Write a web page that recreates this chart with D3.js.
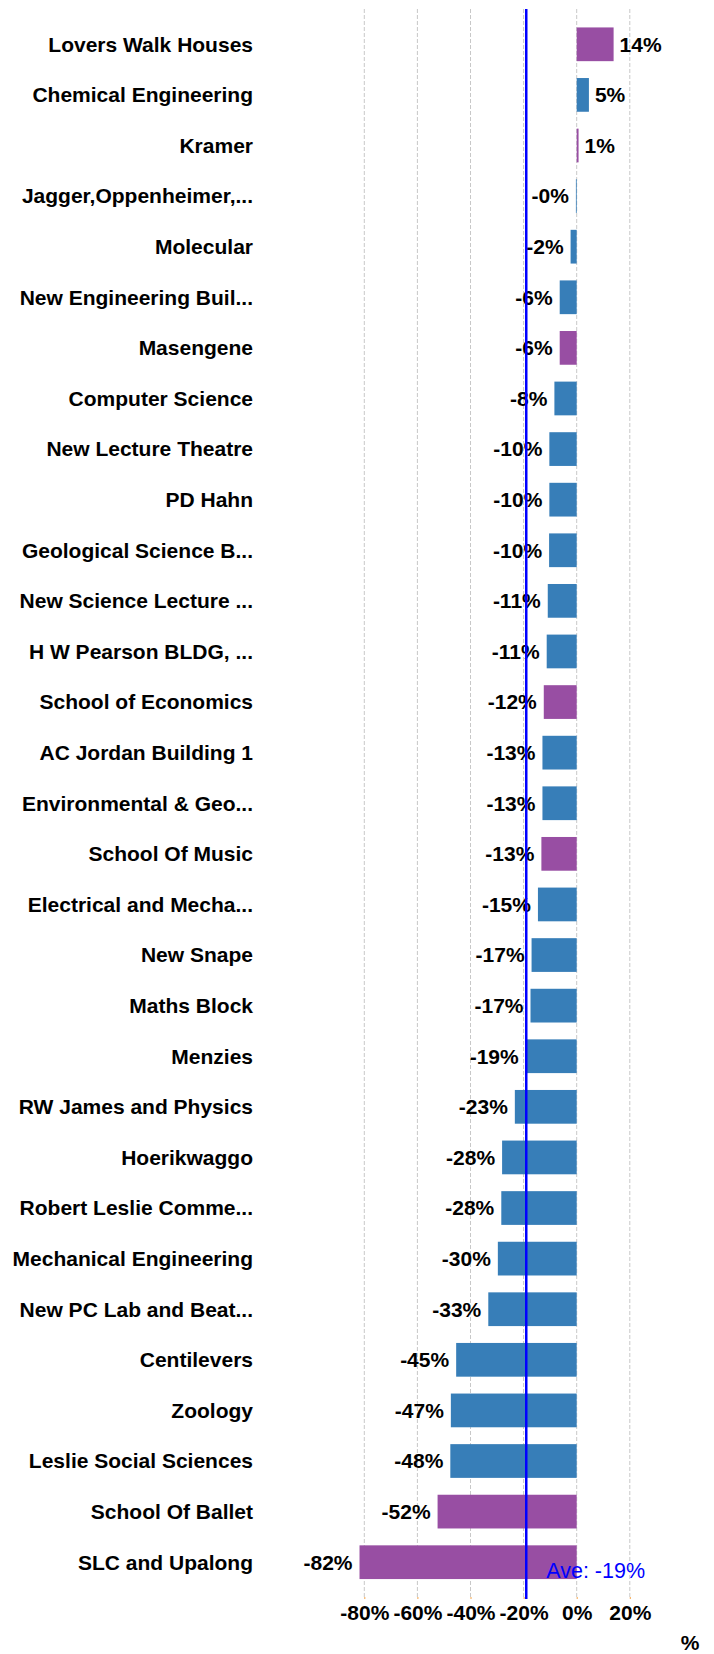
<!DOCTYPE html>
<html>
<head>
<meta charset="utf-8">
<script src="https://cdn.jsdelivr.net/npm/d3@7"></script>
<style>
  body { margin: 0; background: #fff; }
  text { font-family: "Liberation Sans", Arial, sans-serif; }
</style>
</head>
<body>
<div id="container"></div>
<script>
/* CONSTANTS AND GLOBALS */
const width = 714;
const height = 1654;
const fontSize = "21px";

/* DATA */
const buildings = [
  "Lovers Walk Houses", "Chemical Engineering", "Kramer", "Jagger,Oppenheimer,...",
  "Molecular", "New Engineering Buil...", "Masengene", "Computer Science",
  "New Lecture Theatre", "PD Hahn", "Geological Science B...", "New Science Lecture ...",
  "H W Pearson BLDG, ...", "School of Economics", "AC Jordan Building 1",
  "Environmental & Geo...", "School Of Music", "Electrical and Mecha...", "New Snape",
  "Maths Block", "Menzies", "RW James and Physics", "Hoerikwaggo",
  "Robert Leslie Comme...", "Mechanical Engineering", "New PC Lab and Beat...",
  "Centilevers", "Zoology", "Leslie Social Sciences", "School Of Ballet", "SLC and Upalong"
];
const changes = [
  13.9, 4.6, 0.7, -0.3, -2.3, -6.4, -6.4, -8.4, -10.3, -10.3, -10.4, -10.9, -11.3,
  -12.4, -12.9, -12.9, -13.3, -14.6, -17.0, -17.4, -19.2, -23.3, -28.1, -28.4,
  -29.7, -33.3, -45.4, -47.4, -47.6, -52.4, -81.8
];
const valueLabels = [
  "14%", "5%", "1%", "-0%", "-2%", "-6%", "-6%", "-8%", "-10%", "-10%", "-10%", "-11%",
  "-11%", "-12%", "-13%", "-13%", "-13%", "-15%", "-17%", "-17%", "-19%", "-23%",
  "-28%", "-28%", "-30%", "-33%", "-45%", "-47%", "-48%", "-52%", "-82%"
];
const residences = [
  "Lovers Walk Houses", "Kramer", "Masengene", "School of Economics",
  "School Of Music", "School Of Ballet", "SLC and Upalong"
];
const xTicks = [-80, -60, -40, -20, 0, 20];
const average = -19;
const averageLabel = "Ave: -19%";

const data = buildings.map((b, i) => ({ name: b, value: changes[i], label: valueLabels[i] }));

/* SCALES */
const xScale = d3.scaleLinear()
  .domain([-80, 20])
  .range([364.3, 629.8]);

const yScale = d3.scaleBand()
  .domain(buildings)
  .range([19, 1587.5])
  .paddingInner(1 / 3)
  .paddingOuter(1 / 6);

const colour = d => residences.includes(d.name) ? "#984ea3" : "#377eb8";

/* SVG ELEMENT */
const svg = d3.select("#container")
  .append("svg")
  .attr("width", width)
  .attr("height", height);

/* GRIDLINES */
const gridTop = 9;
const gridBottom = 1599;

svg.append("g")
  .selectAll("line")
  .data(xTicks)
  .join("line")
  .attr("x1", d => xScale(d))
  .attr("x2", d => xScale(d))
  .attr("y1", gridTop)
  .attr("y2", gridBottom)
  .attr("stroke", "#c8c8c8")
  .attr("stroke-width", 1)
  .attr("stroke-dasharray", "4,2");

/* AXIS */
const xAxis = d3.axisBottom(xScale)
  .tickValues(xTicks)
  .tickFormat(d => d + "%")
  .tickSize(2)
  .tickPadding(6);

svg.append("g")
  .attr("transform", `translate(0, ${gridBottom - 2})`)
  .call(xAxis)
  .call(g => g.select(".domain").remove())
  .call(g => g.selectAll(".tick line").attr("stroke", "#f5a54a"))
  .call(g => g.selectAll(".tick text")
    .attr("fill", "#000")
    .style("font-size", fontSize)
    .style("font-weight", "bold")
    .style("font-family", "'Liberation Sans', Arial, sans-serif"));

/* BARS */
svg.append("g")
  .selectAll("rect")
  .data(data)
  .join("rect")
  .attr("x", d => xScale(Math.min(0, d.value)))
  .attr("y", d => yScale(d.name))
  .attr("width", d => Math.abs(xScale(d.value) - xScale(0)))
  .attr("height", yScale.bandwidth())
  .attr("fill", colour);

/* CATEGORY LABELS */
svg.append("g")
  .selectAll("text")
  .data(data)
  .join("text")
  .attr("x", 253)
  .attr("y", d => yScale(d.name) + yScale.bandwidth() / 2)
  .attr("dy", "0.35em")
  .attr("text-anchor", "end")
  .style("font-size", fontSize)
  .style("font-weight", "bold")
  .text(d => d.name);

/* VALUE LABELS */
svg.append("g")
  .selectAll("text")
  .data(data)
  .join("text")
  .attr("x", d => d.value >= 0 ? xScale(d.value) + 6 : xScale(d.value) - 7)
  .attr("y", d => yScale(d.name) + yScale.bandwidth() / 2)
  .attr("dy", "0.35em")
  .attr("text-anchor", d => d.value >= 0 ? "start" : "end")
  .style("font-size", fontSize)
  .style("font-weight", "bold")
  .text(d => d.label);

/* AVERAGE LINE */
svg.append("line")
  .attr("x1", xScale(average))
  .attr("x2", xScale(average))
  .attr("y1", gridTop)
  .attr("y2", gridBottom)
  .attr("stroke", "#0000ff")
  .attr("stroke-width", 2.5);

svg.append("text")
  .attr("x", xScale(average) + 20)
  .attr("y", 1578)
  .attr("fill", "#0000ff")
  .style("font-size", "21.5px")
  .text(averageLabel);

/* AXIS TITLE */
svg.append("text")
  .attr("x", 690)
  .attr("y", 1650)
  .attr("text-anchor", "middle")
  .style("font-size", fontSize)
  .style("font-weight", "bold")
  .text("%");
</script>
</body>
</html>
